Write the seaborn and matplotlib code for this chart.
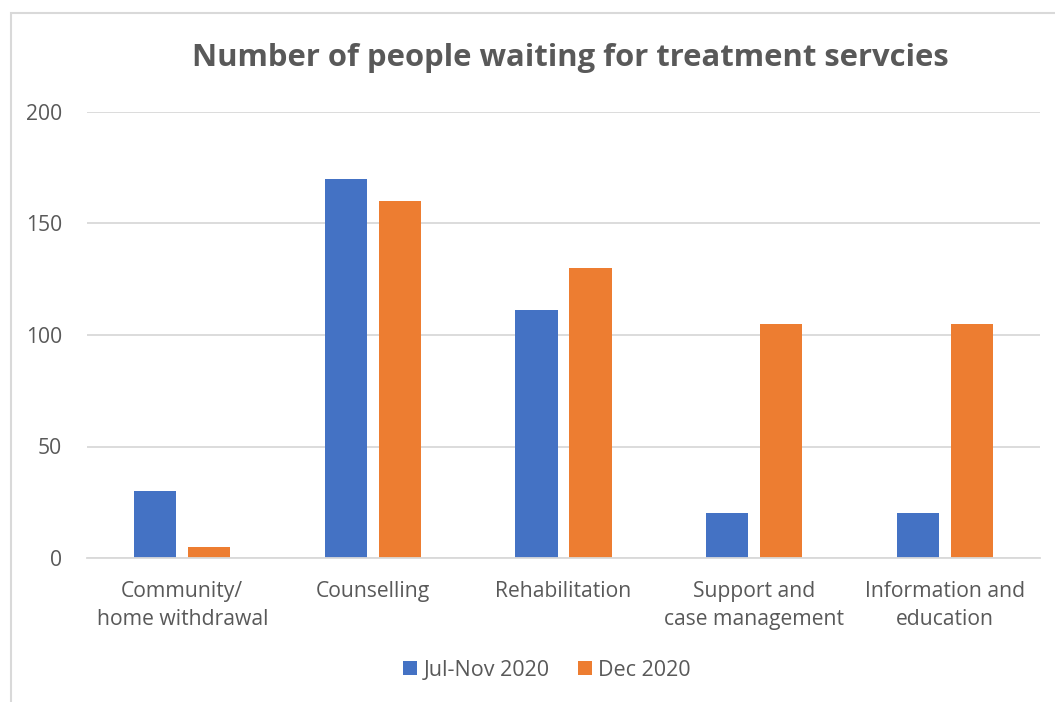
import matplotlib
matplotlib.use("Agg")
import matplotlib.pyplot as plt
import seaborn as sns
import pandas as pd
from matplotlib.patches import Rectangle

categories = ["Community/\nhome withdrawal", "Counselling", "Rehabilitation",
              "Support and\ncase management", "Information and\neducation"]
series_names = ["Jul-Nov 2020", "Dec 2020"]
jul_nov = [30, 170, 111, 20, 20]
dec = [5, 160, 130, 105, 105]
yticks = [0, 50, 100, 150, 200]
title = "Number of people waiting for treatment servcies"

df = pd.DataFrame({
    "category": categories * 2,
    "series": [series_names[0]] * len(categories) + [series_names[1]] * len(categories),
    "value": jul_nov + dec,
})

sns.set_theme(style="white")
plt.rcParams["font.family"] = ["Open Sans", "DejaVu Sans"]

text_color = "#595959"
grid_color = "#d9d9d9"

fig = plt.figure(figsize=(10.55, 7.02), dpi=100)
ax = fig.add_axes([87 / 1055, 1 - 558 / 702, (1040 - 87) / 1055, (558 - 112) / 702])

sns.barplot(data=df, x="category", y="value", hue="series",
            palette=["#4472C4", "#ED7D31"], width=0.567, gap=0.222,
            ax=ax, legend=True, saturation=1, linewidth=0)

ax.set_ylim(0, 200)
ax.set_xlim(-0.5, len(categories) - 0.5)
ax.set_yticks(yticks)
ax.set_yticklabels([str(t) for t in yticks])
ax.yaxis.grid(True, color=grid_color, linewidth=1.3)
ax.set_axisbelow(True)
for s in ["top", "right", "left"]:
    ax.spines[s].set_visible(False)
ax.spines["bottom"].set_color(grid_color)
ax.spines["bottom"].set_linewidth(1.3)
ax.set_xlabel("")
ax.set_ylabel("")
ax.tick_params(axis="both", length=0, labelsize=15.2, colors=text_color)
ax.tick_params(axis="y", pad=18)
ax.tick_params(axis="x", pad=16.5)
for lbl in ax.get_xticklabels():
    lbl.set_linespacing(1.45)

handles, labels = ax.get_legend_handles_labels()
ax.legend_.remove()
fig.legend(handles, labels, loc="center", bbox_to_anchor=(547 / 1055, 1 - 670 / 702),
           ncol=2, frameon=False, fontsize=15.5, labelcolor=text_color,
           handlelength=0.65, handleheight=0.65, handletextpad=0.3, columnspacing=1.3)

fig.text(570 / 1055, 1 - 58 / 702, title, ha="center", va="center",
         fontsize=22.3, fontweight="bold", color=text_color)

fig.patches.append(Rectangle((11 / 1055, -0.2), 1.2, 1 - 13 / 702 + 0.2,
                             transform=fig.transFigure, fill=False,
                             edgecolor=grid_color, linewidth=1.5))

fig.savefig("out.png", dpi=100)
